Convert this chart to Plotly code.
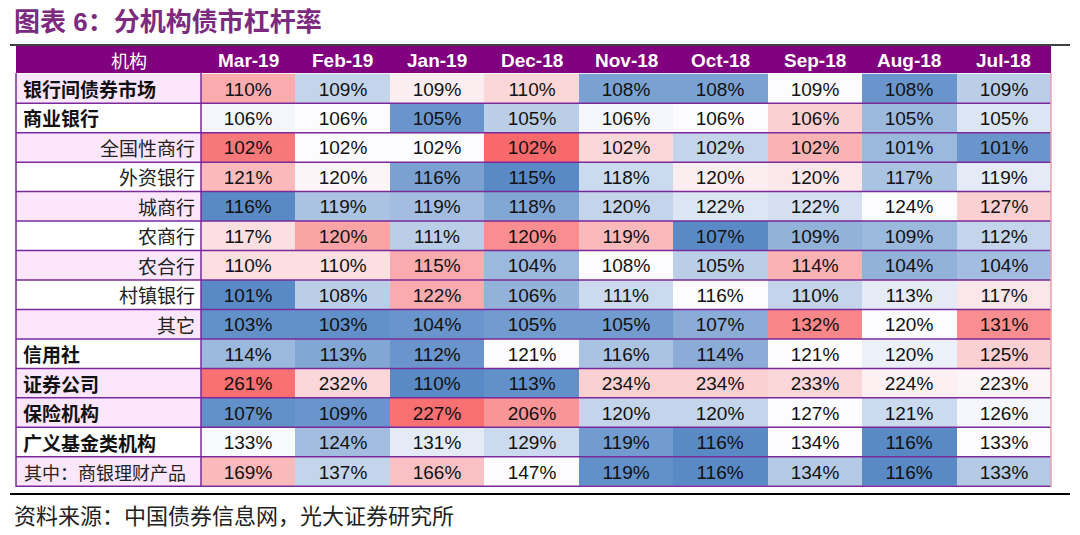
import plotly.graph_objects as go

# ---------------- data ----------------
months = ["Mar-19", "Feb-19", "Jan-19", "Dec-18", "Nov-18", "Oct-18", "Sep-18", "Aug-18", "Jul-18"]
institutions = ["银行间债券市场", "商业银行", "全国性商行", "外资银行", "城商行", "农商行", "农合行",
                "村镇银行", "其它", "信用社", "证券公司", "保险机构", "广义基金类机构", "其中：商银理财产品"]
# label style: 0 = top level (left, bold), 1 = sub level (right aligned), 2 = "of which" row
label_level = [0, 0, 1, 1, 1, 1, 1, 1, 1, 0, 0, 0, 0, 2]

leverage_pct = [
    [110, 109, 109, 110, 108, 108, 109, 108, 109],
    [106, 106, 105, 105, 106, 106, 106, 105, 105],
    [102, 102, 102, 102, 102, 102, 102, 101, 101],
    [121, 120, 116, 115, 118, 120, 120, 117, 119],
    [116, 119, 119, 118, 120, 122, 122, 124, 127],
    [117, 120, 111, 120, 119, 107, 109, 109, 112],
    [110, 110, 115, 104, 108, 105, 114, 104, 104],
    [101, 108, 122, 106, 111, 116, 110, 113, 117],
    [103, 103, 104, 105, 105, 107, 132, 120, 131],
    [114, 113, 112, 121, 116, 114, 121, 120, 125],
    [261, 232, 110, 113, 234, 234, 233, 224, 223],
    [107, 109, 227, 206, 120, 120, 127, 121, 126],
    [133, 124, 131, 129, 119, 116, 134, 116, 133],
    [169, 137, 166, 147, 119, 116, 134, 116, 133],
]
# per-row colour-scale position (-1 lowest in row -> +1 highest in row)
row_scale = [
    [0.55, -0.35, 0.10, 0.25, -0.80, -0.80, 0.00, -0.90, -0.40],
    [-0.05, 0.00, -0.90, -0.40, -0.05, 0.00, 0.30, -0.60, -0.20],
    [0.90, 0.00, 0.00, 1.00, 0.25, -0.35, 0.50, -0.60, -0.90],
    [0.45, 0.05, -0.80, -1.00, -0.30, 0.10, 0.15, -0.50, -0.15],
    [-1.00, -0.50, -0.55, -0.75, -0.35, -0.20, -0.25, 0.00, 0.30],
    [0.20, 0.60, -0.40, 0.75, 0.45, -1.00, -0.65, -0.60, -0.35],
    [0.20, 0.20, 0.55, -0.60, 0.00, -0.40, 0.50, -0.65, -0.55],
    [-1.00, -0.40, 0.55, -0.65, -0.30, 0.00, -0.35, -0.15, 0.15],
    [-0.95, -0.95, -0.90, -0.85, -0.85, -0.70, 0.80, 0.00, 0.75],
    [-0.60, -0.75, -0.90, 0.00, -0.50, -0.70, 0.00, -0.10, 0.30],
    [0.95, 0.25, -1.00, -0.95, 0.30, 0.30, 0.25, 0.08, 0.05],
    [-0.95, -0.90, 0.95, 0.70, -0.35, -0.35, 0.00, -0.30, -0.05],
    [-0.02, -0.55, -0.15, -0.30, -0.85, -1.00, 0.00, -1.00, 0.00],
    [0.45, -0.35, 0.40, 0.00, -0.95, -1.00, -0.45, -1.00, -0.45],
]

title_text = "图表 6：分机构债市杠杆率"
header_label = "机构"
source_text = "资料来源：中国债券信息网，光大证券研究所"

# ---------------- layout helpers ----------------
W, H = 1080, 535
def X(px):
    return px / W
def Y(px):
    return 1 - px / H

TABLE_L, LABEL_R, TABLE_R = 16, 201, 1051
HEAD_T, HEAD_B, TABLE_B = 46, 73, 487

PURPLE = "#800080"
SEP = "#7A2A9A"
PINK = "#FCE6FC"
CJK = "Noto Sans CJK SC"
LAT = "Liberation Sans, Arial"

text = [[f"{v}%" for v in row] for row in leverage_pct]

fig = go.Figure()
fig.add_trace(go.Heatmap(
    z=row_scale, x=months, y=institutions,
    text=text, texttemplate="%{text}",
    textfont=dict(family=LAT, size=19, color="#111111"),
    colorscale=[[0, "#5A8AC6"], [0.5, "#FCFCFF"], [1, "#F8696B"]],
    zmin=-1, zmax=1, showscale=False, hoverinfo="skip",
))

shapes = []
annotations = []

# title + rules
annotations.append(dict(xref="paper", yref="paper", x=X(12), y=Y(22), xanchor="left", yanchor="middle",
                        text=f"<b>{title_text}</b>", showarrow=False,
                        font=dict(family=f"{LAT}, {CJK}", size=26, color="#7B2A80")))
shapes.append(dict(type="line", xref="paper", yref="paper", x0=X(10), x1=X(1070), y0=Y(45), y1=Y(45),
                   line=dict(color="black", width=1.5)))
shapes.append(dict(type="line", xref="paper", yref="paper", x0=X(10), x1=X(1070), y0=Y(494), y1=Y(494),
                   line=dict(color="black", width=2)))
annotations.append(dict(xref="paper", yref="paper", x=X(12), y=Y(514), xanchor="left", yanchor="middle",
                        text=source_text, showarrow=False,
                        font=dict(family=CJK, size=22, color="#222222")))

# header band
shapes.append(dict(type="rect", xref="paper", yref="paper", x0=X(TABLE_L), x1=X(TABLE_R), y0=Y(HEAD_B), y1=Y(HEAD_T),
                   fillcolor=PURPLE, line=dict(width=0), layer="below"))
annotations.append(dict(xref="paper", yref="paper", x=X((TABLE_L + LABEL_R) / 2), y=Y(60), yanchor="middle",
                        text=header_label, showarrow=False, font=dict(family=CJK, size=18, color="white")))
for m in months:
    annotations.append(dict(xref="x", yref="paper", x=m, y=Y(60), yanchor="middle", text=f"<b>{m}</b>",
                            showarrow=False, font=dict(family=LAT, size=19, color="white")))

# label column
label_fill = [PINK, "white", PINK, "white", PINK, "white", PINK, "white", PINK, "white", PINK, PINK, "white", PINK]
for i, (name, lvl) in enumerate(zip(institutions, label_level)):
    shapes.append(dict(type="rect", xref="paper", yref="y", x0=X(TABLE_L), x1=X(LABEL_R), y0=i - 0.5, y1=i + 0.5,
                       fillcolor=label_fill[i], line=dict(width=0), layer="below"))
    if lvl == 0:
        annotations.append(dict(xref="paper", yref="y", x=X(21), y=name, xanchor="left", yanchor="middle",
                                text=f"<b>{name}</b>", showarrow=False,
                                font=dict(family=CJK, size=19, color="#111111")))
    elif lvl == 1:
        annotations.append(dict(xref="paper", yref="y", x=X(197), y=name, xanchor="right", yanchor="middle",
                                text=name, showarrow=False, font=dict(family=CJK, size=19, color="#222222")))
    else:
        annotations.append(dict(xref="paper", yref="y", x=X(22), y=name, xanchor="left", yanchor="middle",
                                text=name, showarrow=False, font=dict(family=CJK, size=18, color="#222222")))

# row separators
for i in range(len(institutions)):
    shapes.append(dict(type="line", xref="paper", yref="y", x0=X(TABLE_L), x1=X(TABLE_R), y0=i + 0.5, y1=i + 0.5,
                       line=dict(color=SEP, width=1.5), layer="above"))
# vertical borders
for xp, col in [(TABLE_L, SEP), (LABEL_R, SEP), (TABLE_R, "#E8A0A8")]:
    shapes.append(dict(type="line", xref="paper", yref="paper", x0=X(xp), x1=X(xp), y0=Y(TABLE_B), y1=Y(HEAD_B),
                       line=dict(color=col, width=1.5), layer="above"))

fig.update_layout(
    width=W, height=H, margin=dict(l=0, r=0, t=0, b=0),
    paper_bgcolor="white", plot_bgcolor="white",
    xaxis=dict(domain=[X(LABEL_R), X(TABLE_R)], showticklabels=False, showgrid=False, zeroline=False, fixedrange=True),
    yaxis=dict(domain=[Y(TABLE_B), Y(HEAD_B)], autorange="reversed", showticklabels=False, showgrid=False,
               zeroline=False, fixedrange=True),
    shapes=shapes, annotations=annotations,
)

fig.write_html("out.html", config={"displayModeBar": False},
               post_script="document.body.style.margin='0';document.body.style.overflow='hidden';")
